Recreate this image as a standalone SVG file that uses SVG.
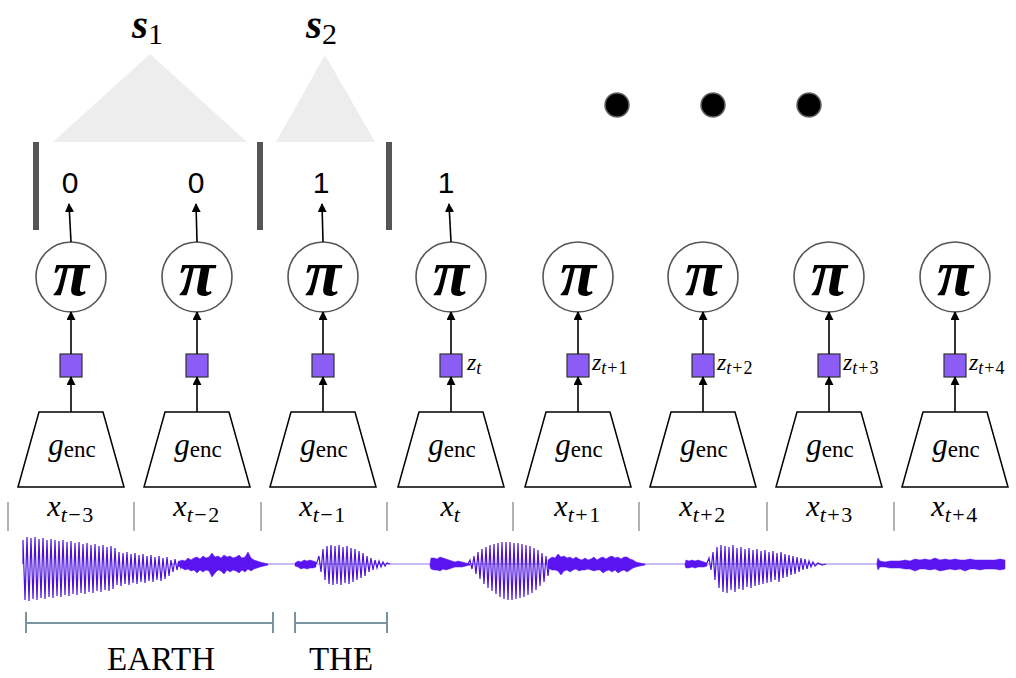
<svg xmlns="http://www.w3.org/2000/svg" width="1016" height="678" viewBox="0 0 1016 678">
  <defs>
    <marker id="arr" viewBox="0 0 10 10" refX="9" refY="5" markerWidth="9" markerHeight="9" markerUnits="userSpaceOnUse" orient="auto">
      <path d="M0 0 L10 5 L0 10 Z" fill="#000"/>
    </marker>
    <style>
      .circ { fill: #fff; stroke: #555; stroke-width: 1.6; }
      .pi { font-family: "Liberation Serif", serif; font-weight: bold; font-style: italic; font-size: 66px; text-anchor: middle; fill: #000; }
      .sq { fill: #8b5cf6; stroke: #333; stroke-width: 1.2; }
      .trap { fill: #fff; stroke: #000; stroke-width: 1.5; }
      .genc { font-family: "Liberation Serif", serif; font-size: 31px; text-anchor: middle; fill: #000; }
      .zl { font-family: "Liberation Serif", serif; font-size: 24px; fill: #000; }
      .xl { font-family: "Liberation Serif", serif; font-size: 30px; text-anchor: middle; fill: #000; }
      .sub { font-size: 22px; letter-spacing: 1.5px; }
      .zsub { font-size: 18px; letter-spacing: 1px; }
      .bit { font-family: "Liberation Sans", Arial, sans-serif; font-size: 30px; text-anchor: middle; fill: #000; }
      .sep { stroke: #999; stroke-width: 1.5; }
      .bar { fill: #555; }
      .tri { fill: #ededed; }
      .con { stroke: #000; stroke-width: 1.6; fill: none; marker-end: url(#arr); }
      .wave { fill: none; stroke: #4c12dc; stroke-width: 1.2; stroke-linejoin: miter; }
      .noise { fill: #5a14f0; stroke: #5a14f0; stroke-width: 0.5; stroke-linejoin: round; }
      .flat { stroke: #b6a6ee; stroke-width: 1.3; }
      .brk { stroke: #7a93a1; stroke-width: 2; fill: none; }
      .word { font-family: "Liberation Serif", serif; font-size: 33px; text-anchor: middle; fill: #000; }
      .seg { font-family: "Liberation Serif", serif; font-weight: bold; font-style: italic; font-size: 41px; fill: #000; }
    </style>
  </defs>

  <!-- segment triangles and labels -->
  <g id="segment-s1">
    <polygon class="tri" points="150,54 53,142 247,142"/>
    <text class="seg" x="132" y="38">s<tspan font-style="normal" font-weight="normal" font-size="30" dy="6">1</tspan></text>
  </g>
  <g id="segment-s2">
    <polygon class="tri" points="325,55 276,142 375,142"/>
    <text class="seg" x="306" y="38">s<tspan font-style="normal" font-weight="normal" font-size="30" dy="6">2</tspan></text>
  </g>

  <!-- boundary bars -->
  <g id="boundaries">
    <rect class="bar" x="33" y="142" width="6" height="88"/>
    <rect class="bar" x="257" y="142" width="6" height="88"/>
    <rect class="bar" x="386" y="142" width="6" height="88"/>
  </g>

  <!-- ellipsis -->
  <g id="ellipsis" fill="#000" stroke="#666" stroke-width="1.5">
    <circle cx="617" cy="105" r="12"/>
    <circle cx="713" cy="105" r="12"/>
    <circle cx="809" cy="105" r="12"/>
  </g>

  <!-- boundary decisions -->
  <g id="decisions">
    <text class="bit" x="70" y="193">0</text>
    <text class="bit" x="196" y="193">0</text>
    <text class="bit" x="321" y="193">1</text>
    <text class="bit" x="446" y="193">1</text>
  </g>

  <!-- per-frame columns: encoder, latent, policy -->
  <g id="col-1">
    <path class="trap" d="M39 412 H103 L124 487 H18 Z"/>
    <text class="genc" x="72" y="455"><tspan font-style="italic">g</tspan><tspan font-size="23" dy="2">enc</tspan></text>
    <rect class="sq" x="60" y="354" width="22" height="23"/>
    <circle class="circ" cx="71" cy="277" r="35"/>
    <text class="pi" x="71" y="295">π</text>
  </g>
  <g id="col-2">
    <path class="trap" d="M165 412 H229 L250 487 H144 Z"/>
    <text class="genc" x="198" y="455"><tspan font-style="italic">g</tspan><tspan font-size="23" dy="2">enc</tspan></text>
    <rect class="sq" x="186" y="354" width="22" height="23"/>
    <circle class="circ" cx="197" cy="277" r="35"/>
    <text class="pi" x="197" y="295">π</text>
  </g>
  <g id="col-3">
    <path class="trap" d="M291 412 H355 L376 487 H270 Z"/>
    <text class="genc" x="324" y="455"><tspan font-style="italic">g</tspan><tspan font-size="23" dy="2">enc</tspan></text>
    <rect class="sq" x="312" y="354" width="22" height="23"/>
    <circle class="circ" cx="323" cy="277" r="35"/>
    <text class="pi" x="323" y="295">π</text>
  </g>
  <g id="col-4">
    <path class="trap" d="M419 412 H483 L504 487 H398 Z"/>
    <text class="genc" x="452" y="455"><tspan font-style="italic">g</tspan><tspan font-size="23" dy="2">enc</tspan></text>
    <rect class="sq" x="440" y="354" width="22" height="23"/>
    <text class="zl" x="467" y="370"><tspan font-style="italic">z</tspan><tspan class="zsub" font-style="italic" dy="4">t</tspan></text>
    <circle class="circ" cx="451" cy="277" r="35"/>
    <text class="pi" x="451" y="295">π</text>
  </g>
  <g id="col-5">
    <path class="trap" d="M546 412 H610 L631 487 H525 Z"/>
    <text class="genc" x="579" y="455"><tspan font-style="italic">g</tspan><tspan font-size="23" dy="2">enc</tspan></text>
    <rect class="sq" x="567" y="354" width="22" height="23"/>
    <text class="zl" x="592" y="370"><tspan font-style="italic">z</tspan><tspan class="zsub" dy="4"><tspan font-style="italic">t</tspan>+1</tspan></text>
    <circle class="circ" cx="578" cy="277" r="35"/>
    <text class="pi" x="578" y="295">π</text>
  </g>
  <g id="col-6">
    <path class="trap" d="M671 412 H735 L756 487 H650 Z"/>
    <text class="genc" x="704" y="455"><tspan font-style="italic">g</tspan><tspan font-size="23" dy="2">enc</tspan></text>
    <rect class="sq" x="692" y="354" width="22" height="23"/>
    <text class="zl" x="717" y="370"><tspan font-style="italic">z</tspan><tspan class="zsub" dy="4"><tspan font-style="italic">t</tspan>+2</tspan></text>
    <circle class="circ" cx="703" cy="277" r="35"/>
    <text class="pi" x="703" y="295">π</text>
  </g>
  <g id="col-7">
    <path class="trap" d="M797 412 H861 L882 487 H776 Z"/>
    <text class="genc" x="830" y="455"><tspan font-style="italic">g</tspan><tspan font-size="23" dy="2">enc</tspan></text>
    <rect class="sq" x="818" y="354" width="22" height="23"/>
    <text class="zl" x="843" y="370"><tspan font-style="italic">z</tspan><tspan class="zsub" dy="4"><tspan font-style="italic">t</tspan>+3</tspan></text>
    <circle class="circ" cx="829" cy="277" r="35"/>
    <text class="pi" x="829" y="295">π</text>
  </g>
  <g id="col-8">
    <path class="trap" d="M923 412 H987 L1008 487 H902 Z"/>
    <text class="genc" x="956" y="455"><tspan font-style="italic">g</tspan><tspan font-size="23" dy="2">enc</tspan></text>
    <rect class="sq" x="944" y="354" width="22" height="23"/>
    <text class="zl" x="969" y="370"><tspan font-style="italic">z</tspan><tspan class="zsub" dy="4"><tspan font-style="italic">t</tspan>+4</tspan></text>
    <circle class="circ" cx="955" cy="277" r="35"/>
    <text class="pi" x="955" y="295">π</text>
  </g>

  <!-- connectors -->
  <g id="connectors">
    <line class="con" x1="71" y1="412" x2="71" y2="377"/>
    <line class="con" x1="197" y1="412" x2="197" y2="377"/>
    <line class="con" x1="323" y1="412" x2="323" y2="377"/>
    <line class="con" x1="451" y1="412" x2="451" y2="377"/>
    <line class="con" x1="578" y1="412" x2="578" y2="377"/>
    <line class="con" x1="703" y1="412" x2="703" y2="377"/>
    <line class="con" x1="829" y1="412" x2="829" y2="377"/>
    <line class="con" x1="955" y1="412" x2="955" y2="377"/>

    <line class="con" x1="71" y1="354" x2="71" y2="312"/>
    <line class="con" x1="197" y1="354" x2="197" y2="312"/>
    <line class="con" x1="323" y1="354" x2="323" y2="312"/>
    <line class="con" x1="451" y1="354" x2="451" y2="312"/>
    <line class="con" x1="578" y1="354" x2="578" y2="312"/>
    <line class="con" x1="703" y1="354" x2="703" y2="312"/>
    <line class="con" x1="829" y1="354" x2="829" y2="312"/>
    <line class="con" x1="955" y1="354" x2="955" y2="312"/>

    <line class="con" x1="71" y1="242" x2="69" y2="204"/>
    <line class="con" x1="197" y1="242" x2="196" y2="204"/>
    <line class="con" x1="323" y1="242" x2="322" y2="204"/>
    <line class="con" x1="451" y1="242" x2="449" y2="204"/>
  </g>

  <!-- frame separators and frame labels -->
  <g id="frames">
    <line class="sep" x1="8" y1="502" x2="8" y2="531"/>
    <line class="sep" x1="134" y1="502" x2="134" y2="531"/>
    <line class="sep" x1="261" y1="502" x2="261" y2="531"/>
    <line class="sep" x1="387" y1="502" x2="387" y2="531"/>
    <line class="sep" x1="513" y1="502" x2="513" y2="531"/>
    <line class="sep" x1="639" y1="502" x2="639" y2="531"/>
    <line class="sep" x1="767" y1="502" x2="767" y2="531"/>
    <line class="sep" x1="894" y1="502" x2="894" y2="531"/>
    <text class="xl" x="71" y="516"><tspan font-style="italic">x</tspan><tspan class="sub" dy="6"><tspan font-style="italic">t</tspan>−3</tspan></text>
    <text class="xl" x="197" y="516"><tspan font-style="italic">x</tspan><tspan class="sub" dy="6"><tspan font-style="italic">t</tspan>−2</tspan></text>
    <text class="xl" x="323" y="516"><tspan font-style="italic">x</tspan><tspan class="sub" dy="6"><tspan font-style="italic">t</tspan>−1</tspan></text>
    <text class="xl" x="451" y="516"><tspan font-style="italic">x</tspan><tspan class="sub" dy="6" font-style="italic">t</tspan></text>
    <text class="xl" x="578" y="516"><tspan font-style="italic">x</tspan><tspan class="sub" dy="6"><tspan font-style="italic">t</tspan>+1</tspan></text>
    <text class="xl" x="703" y="516"><tspan font-style="italic">x</tspan><tspan class="sub" dy="6"><tspan font-style="italic">t</tspan>+2</tspan></text>
    <text class="xl" x="830" y="516"><tspan font-style="italic">x</tspan><tspan class="sub" dy="6"><tspan font-style="italic">t</tspan>+3</tspan></text>
    <text class="xl" x="955" y="516"><tspan font-style="italic">x</tspan><tspan class="sub" dy="6"><tspan font-style="italic">t</tspan>+4</tspan></text>
  </g>

  <!-- audio waveform -->
  <g id="waveform">
    <line class="flat" x1="170" y1="564" x2="1005" y2="564"/>
    <path class="wave" d="M23 564 L23 540 25 600 27 537 29 601 31 538 33 599 35 537 37 600 39 539 41 598 43 538 45 599 47 540 49 597 51 539 53 598 55 540 57 596 59 541 61 597 63 540 65 595 67 542 69 596 71 541 73 594 75 543 77 595 79 542 81 593 83 544 85 594 87 543 89 592 91 545 93 593 95 544 97 591 99 546 101 592 103 545 105 590 107 547 109 591 111 546 113 589 115 548 117 585 119 552 121 586 123 553 125 584 127 552 129 585 131 554 133 583 135 553 137 584 139 555 141 582 143 554 145 583 147 556 149 581 151 555 153 582 155 557 157 580 159 556 161 581 163 558 165 579 167 557 169 576 171 560 173 572 175 559 177 570 179 561 181 568 183 563"/>
    <polygon class="noise" points="178,562 182,560 185,561 188,558 191,560 194,558 197,557 200,559 203,556 206,558 209,557 212,553 215,557 218,556 221,558 224,555 227,557 230,556 233,558 236,557 239,555 242,558 245,557 248,552 251,558 254,560 257,561 260,562 264,563 268,564 268,565 264,566 260,567 257,568 254,569 251,571 248,569 245,572 242,570 239,573 236,571 233,570 230,572 227,570 224,574 221,571 218,570 215,573 212,577 209,571 206,570 203,572 200,570 197,573 194,570 191,571 188,569 185,570 182,568 178,566"/>
    <polygon class="noise" points="295,563 298,561 301,562 304,560 307,561 310,560 313,561 316,562 316,567 313,568 310,568 307,569 304,568 301,569 298,567 295,566"/>
    <path class="wave" d="M316 564 L317 562 319 556 321 572 323 549 325 580 327 546 329 584 331 545 333 585 335 546 337 584 339 545 341 585 343 547 345 583 347 546 349 584 351 548 353 582 355 549 357 580 359 551 361 578 363 553 365 576 367 556 369 572 371 558 373 570 375 560 377 568 379 561 381 567 383 562 385 566 387 563 390 564"/>
    <polygon class="noise" points="430,564 431,558 434,558 437,559 440,557 443,558 446,559 449,560 452,561 455,562 458,561 462,562 466,563 470,564 470,565 466,566 462,567 458,567 455,567 452,568 449,569 446,570 443,569 440,571 437,570 434,570 431,569 430,566"/>
    <path class="wave" d="M468 564 L470 560 472 569 474 556 476 574 478 552 480 579 482 549 484 584 486 547 488 588 490 545 492 591 494 544 496 594 498 543 500 597 502 542 504 599 506 542 508 600 510 542 512 600 514 543 516 599 518 543 520 598 522 544 524 597 526 545 528 595 530 546 532 593 534 548 536 590 538 550 540 586 542 553 544 582 546 556 548 576 550 559 552 570 554 562"/>
    <polygon class="noise" points="548,560 552,557 555,558 558,554 561,557 564,556 567,558 570,557 573,559 576,557 579,559 582,560 585,558 588,560 591,559 594,557 597,560 600,558 603,557 606,559 609,557 612,556 615,558 618,557 621,559 624,557 627,557 630,559 633,560 636,562 640,563 645,564 645,565 640,566 636,567 633,568 630,570 627,572 624,570 621,571 618,573 615,570 612,572 609,570 606,571 603,573 600,570 597,570 594,571 591,570 588,569 585,570 582,570 579,571 576,569 573,570 570,572 567,570 564,571 561,575 558,571 555,570 552,570 548,568"/>
    <polygon class="noise" points="685,564 686,560 689,561 692,560 695,561 698,560 701,561 704,562 707,563 707,566 704,567 701,567 698,567 695,568 692,567 689,568 686,568 685,566"/>
    <path class="wave" d="M707 563 L709 558 711 570 713 552 715 580 717 547 719 588 721 545 723 592 725 546 727 593 729 547 731 590 733 545 735 592 737 548 739 589 741 547 743 590 745 549 747 587 749 548 751 588 753 550 755 586 757 549 759 585 761 551 763 584 765 550 767 583 769 552 771 582 773 551 775 580 777 553 779 582 781 552 783 578 785 554 787 577 789 555 791 575 793 556 795 574 797 557 799 572 801 558 803 570 805 559 807 569 809 561 811 567 813 562 815 566 818 563 822 565 826 564"/>
    <polygon class="noise" points="877,562 878,558 880,561 885,562 890,561 895,561 900,561 905,560 910,561 915,559 920,560 925,559 930,560 935,558 940,560 945,559 950,560 955,559 960,560 965,560 970,559 975,560 980,560 985,560 990,560 995,560 1000,559 1005,560 1005,569 1000,570 995,569 990,569 985,569 980,570 975,569 970,569 965,571 960,569 955,570 950,569 945,570 940,571 935,569 930,570 925,569 920,569 915,571 910,569 905,569 900,568 895,568 890,568 885,567 880,567 878,570 877,566"/>
  </g>

  <!-- word spans -->
  <g id="word-earth">
    <path class="brk" d="M26 612 V633 M26 623 H273 M273 612 V633"/>
    <text class="word" x="161" y="670">EARTH</text>
  </g>
  <g id="word-the">
    <path class="brk" d="M295 612 V633 M295 623 H387 M387 612 V633"/>
    <text class="word" x="341" y="670">THE</text>
  </g>
</svg>
